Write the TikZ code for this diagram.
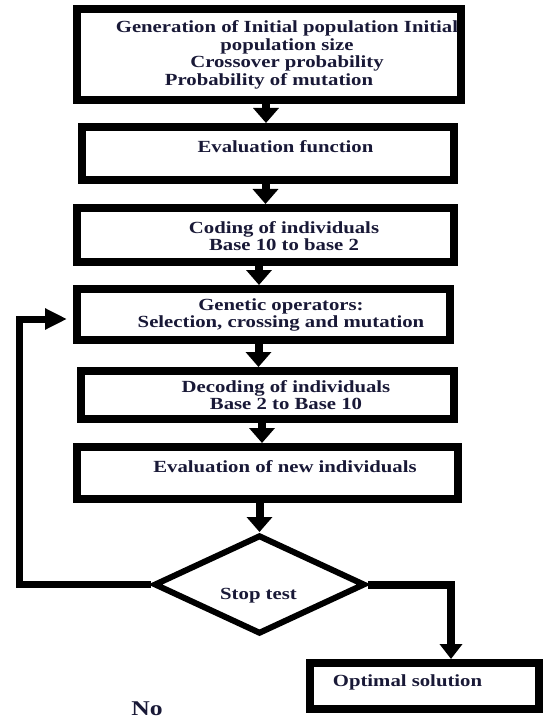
\documentclass[tikz,border=0pt]{standalone}
\usepackage{fontspec}
\setmainfont[FakeStretch=1.22]{Liberation Serif}
\usetikzlibrary{arrows.meta,shapes.geometric}
\definecolor{ink}{RGB}{25,25,55}
\begin{document}
\begin{tikzpicture}[x=1pt,y=-1pt,
  box/.style={draw=black, line width=8pt, rectangle, inner sep=0pt, fill=white},
  dia/.style={draw=black, line width=6pt, diamond, inner sep=0pt, fill=white},
  txt/.style={text=ink, font=\fontsize{17}{17.6}\selectfont\bfseries, align=center, inner sep=0pt},
  arr/.style={line width=8pt, -{Triangle[length=15pt,width=25pt]}},
  conn/.style={line width=7pt, line join=miter}
]
\useasboundingbox (0,0) rectangle (544,719);
% boxes
\node[box, minimum width=384pt, minimum height=91pt] (b1) at (269,54.5) {};
\node[box, minimum width=372pt, minimum height=53pt] (b2) at (268,153.5) {};
\node[box, minimum width=377pt, minimum height=54pt] (b3) at (265.5,235) {};
\node[box, minimum width=373pt, minimum height=51pt] (b4) at (263.5,314.5) {};
\node[box, minimum width=373pt, minimum height=48pt] (b5) at (267.5,395) {};
\node[box, minimum width=381pt, minimum height=52pt] (b6) at (267.5,473) {};
\node[dia, minimum width=211pt, minimum height=99pt] (d) at (259.5,584.5) {};
\node[box, minimum width=229pt, minimum height=46pt] (opt) at (424.5,686) {};
% texts
\node[txt] (t1) at (287,55) {Generation of Initial population Initial\\population size\\Crossover probability\\Probability of mutation\hspace*{36pt}};
\node[txt] (t2) at (285.5,147) {Evaluation function};
\node[txt] (t3) at (284,236) {Coding of individuals\\Base 10 to base 2};
\node[txt] (t4) at (281,315) {Genetic operators:\\Selection, crossing and mutation};
\node[txt] (t5) at (286,395) {Decoding of individuals\\Base 2 to Base 10};
\node[txt] (t6) at (285,467) {Evaluation of new individuals};
\node[txt] (t7) at (258.5,596) {Stop test};
\node[txt] (t8) at (407.5,682) {Optimal solution};
\node[text=ink, font=\fontsize{21}{22}\selectfont\bfseries, inner sep=0pt] (no) at (147,709) {No};
% arrows
\draw[arr] (266,0 |- b1.south) -- (266,0 |- b2.north);
\draw[arr] (265.5,0 |- b2.south) -- (265.5,0 |- b3.north);
\draw[arr] (259,0 |- b3.south) -- (259,0 |- b4.north);
\draw[arr] (258.5,0 |- b4.south) -- (258.5,0 |- b5.north);
\draw[arr] (262,0 |- b5.south) -- (262,0 |- b6.north);
\draw[arr] (259.5,0 |- b6.south) -- (d.north);
% loop back
\coordinate (loopend) at (67,319);
\draw[conn, -{Triangle[length=22pt,width=20pt]}] (d.west) -- (19.5,0 |- d.west) -- (19.5,0 |- loopend) -- (loopend);
% to optimal solution
\draw[conn, line width=8pt, -{Triangle[length=15pt,width=22pt]}] (d.east) -- (451,0 |- d.east) -- (451,0 |- opt.north);
\end{tikzpicture}
\end{document}
